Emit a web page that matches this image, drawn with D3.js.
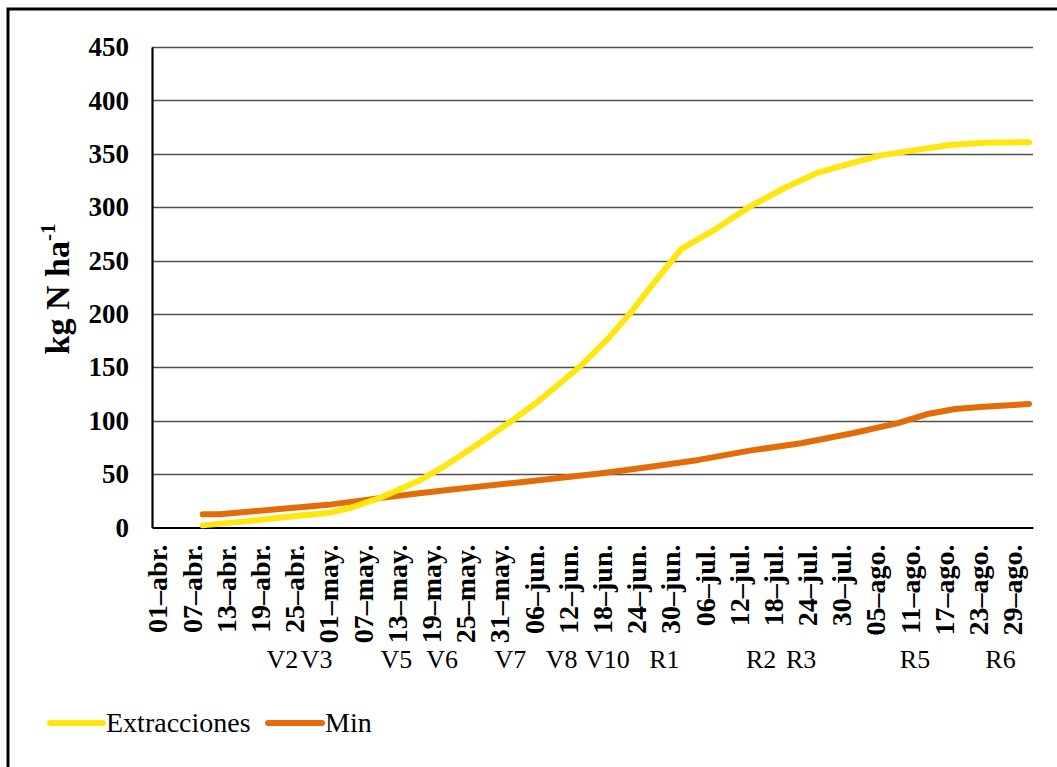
<!DOCTYPE html>
<html>
<head>
<meta charset="utf-8">
<script src="https://cdn.jsdelivr.net/npm/d3@7"></script>
<style>
  html, body { margin: 0; padding: 0; background: #fff; }
  svg { display: block; font-family: "Liberation Serif", "Times New Roman", serif; }
</style>
</head>
<body>
<svg id="chart" width="1057" height="767"></svg>
<script>
// ---------- data ----------
const extDates = ["2020-04-09","2020-04-16","2020-04-24","2020-05-01","2020-05-05","2020-05-10","2020-05-17","2020-05-21","2020-05-27","2020-06-02","2020-06-07","2020-06-14","2020-06-19","2020-06-23","2020-06-27","2020-07-02","2020-07-08","2020-07-14","2020-07-20","2020-07-26","2020-08-01","2020-08-06","2020-08-12","2020-08-18","2020-08-24","2020-09-01"];
const extValues = [2, 5.5, 10, 13.5, 18.5, 27.5, 44, 56, 77, 99, 118.7, 149.8, 176.2, 200.6, 228, 261, 279.5, 300.5, 317.7, 332.4, 341.5, 348.5, 353.4, 358.2, 360.4, 360.8];

const minDates = ["2020-04-09","2020-04-12","2020-04-24","2020-05-01","2020-05-09","2020-05-17","2020-05-22","2020-06-03","2020-06-18","2020-06-26","2020-07-05","2020-07-14","2020-07-23","2020-08-01","2020-08-09","2020-08-14","2020-08-19","2020-08-24","2020-09-01"];
const minValues = [12.5, 12.5, 18, 21.2, 26.8, 32.1, 35.2, 42, 50.8, 56.4, 63.3, 72, 78.9, 88.3, 97.7, 106, 111, 113, 115.7];

const tickDates = ["2020-04-01","2020-04-07","2020-04-13","2020-04-19","2020-04-25","2020-05-01","2020-05-07","2020-05-13","2020-05-19","2020-05-25","2020-05-31","2020-06-06","2020-06-12","2020-06-18","2020-06-24","2020-06-30","2020-07-06","2020-07-12","2020-07-18","2020-07-24","2020-07-30","2020-08-05","2020-08-11","2020-08-17","2020-08-23","2020-08-29"];
const tickLabels = ["01\u2013abr.","07\u2013abr.","13\u2013abr.","19\u2013abr.","25\u2013abr.","01\u2013may.","07\u2013may.","13\u2013may.","19\u2013may.","25\u2013may.","31\u2013may.","06\u2013jun.","12\u2013jun.","18\u2013jun.","24\u2013jun.","30\u2013jun.","06\u2013jul.","12\u2013jul.","18\u2013jul.","24\u2013jul.","30\u2013jul.","05\u2013ago.","11\u2013ago.","17\u2013ago.","23\u2013ago.","29\u2013ago."];

const stageNames = ["V2","V3","V5","V6","V7","V8","V10","R1","R2","R3","R5","R6"];
const stageDates = ["2020-04-23","2020-04-29","2020-05-13","2020-05-21","2020-06-02","2020-06-11","2020-06-19","2020-06-29","2020-07-16","2020-07-23","2020-08-12","2020-08-27"];

const yTicks = [0, 50, 100, 150, 200, 250, 300, 350, 400, 450];
const seriesNames = ["Extracciones", "Min"];
const seriesColors = ["#FFE60F", "#E36C09"];

// ---------- setup ----------
const parse = d3.utcParse("%Y-%m-%d");
const svg = d3.select("#chart");
const plot = { left: 152, right: 1033, top: 47, bottom: 527.5 };

const day = 864e5;
const origin = parse("2020-04-01");
const x = d3.scaleUtc()
  .domain([new Date(+origin - 0.9 * day), new Date(+origin + 153.7 * day)])
  .range([plot.left, plot.right]);
const y = d3.scaleLinear().domain([0, 450]).range([plot.bottom, plot.top]);

// outer border
svg.append("rect")
  .attr("x", 8).attr("y", 9).attr("width", 1100).attr("height", 800)
  .attr("fill", "#fff").attr("stroke", "#000").attr("stroke-width", 3);

// gridlines
svg.append("g")
  .selectAll("line")
  .data(yTicks.filter(v => v > 0))
  .join("line")
  .attr("x1", plot.left).attr("x2", plot.right)
  .attr("y1", d => Math.round(y(d)) + 0.5).attr("y2", d => Math.round(y(d)) + 0.5)
  .attr("stroke", "#505050").attr("stroke-width", 1.4);

// y axis
const yAxis = d3.axisLeft(y).tickValues(yTicks).tickSize(0).tickPadding(23);
const gy = svg.append("g").attr("transform", `translate(${plot.left},0)`).call(yAxis);
gy.select(".domain").attr("stroke", "#000").attr("stroke-width", 2.2);
gy.selectAll("text")
  .attr("font-family", "Liberation Serif, serif")
  .attr("font-weight", "bold").attr("font-size", 27).attr("fill", "#000");

// x axis
const xAxis = d3.axisBottom(x)
  .tickValues(tickDates.map(parse))
  .tickFormat((d, i) => tickLabels[i])
  .tickSize(0);
const gx = svg.append("g").attr("transform", `translate(0,${plot.bottom})`).call(xAxis);
gx.select(".domain").attr("stroke", "#000").attr("stroke-width", 2.2);
gx.selectAll("text")
  .attr("font-family", "Liberation Serif, serif")
  .attr("font-weight", "bold").attr("font-size", 28).attr("fill", "#000")
  .attr("text-anchor", "end")
  .attr("transform", "rotate(-90)")
  .attr("x", -17).attr("y", 0).attr("dy", "0.35em");

// y axis title
const yt = svg.append("text")
  .attr("transform", `translate(69,289) rotate(-90)`)
  .attr("text-anchor", "middle")
  .attr("font-weight", "bold").attr("font-size", 34).attr("fill", "#000");
yt.append("tspan").text("kg N ha");
yt.append("tspan").text("-1").attr("font-size", 21).attr("dy", -14);

// lines
const line = d3.line().x(d => x(d.date)).y(d => y(d.value)).curve(d3.curveLinear);
const series = [
  extDates.map((d, i) => ({ date: parse(d), value: extValues[i] })),
  minDates.map((d, i) => ({ date: parse(d), value: minValues[i] }))
];
svg.append("g").selectAll("path")
  .data([{ s: series[1], c: seriesColors[1] }, { s: series[0], c: seriesColors[0] }])
  .join("path")
  .attr("d", d => line(d.s))
  .attr("fill", "none")
  .attr("stroke", d => d.c)
  .attr("stroke-width", 6)
  .attr("stroke-linecap", "round")
  .attr("stroke-linejoin", "round");

// stage labels
svg.append("g").selectAll("text")
  .data(stageNames)
  .join("text")
  .attr("x", (d, i) => x(parse(stageDates[i])))
  .attr("y", 668)
  .attr("text-anchor", "middle")
  .attr("font-size", 26).attr("fill", "#000")
  .text(d => d);

// legend
const legend = [
  { name: seriesNames[0], color: seriesColors[0], x1: 50, x2: 103, tx: 106 },
  { name: seriesNames[1], color: seriesColors[1], x1: 268, x2: 322, tx: 325 }
];
const lg = svg.append("g");
lg.selectAll("line").data(legend).join("line")
  .attr("x1", d => d.x1).attr("x2", d => d.x2)
  .attr("y1", 723).attr("y2", 723)
  .attr("stroke", d => d.color).attr("stroke-width", 6).attr("stroke-linecap", "round");
lg.selectAll("text").data(legend).join("text")
  .attr("x", d => d.tx).attr("y", 732)
  .attr("font-size", 28).attr("fill", "#000")
  .text(d => d.name);
</script>
</body>
</html>
